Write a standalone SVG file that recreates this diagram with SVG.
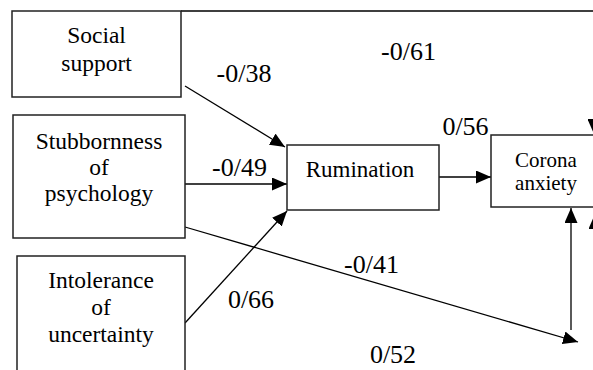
<svg xmlns="http://www.w3.org/2000/svg" width="593" height="370" viewBox="0 0 593 370">
<style>
.box{fill:#fff;stroke:#222;stroke-width:1.5}
.c{fill:none;stroke:#000;stroke-width:1.3}
text{font-family:'Liberation Serif','Times New Roman',serif;fill:#000;text-anchor:middle}
.t{font-size:23.5px}
.n{font-size:26px}
</style>
<defs>
<marker id="ah" markerUnits="userSpaceOnUse" markerWidth="15" markerHeight="13" refX="15" refY="6.5" orient="auto">
<path d="M0,0 L15,6.5 L0,13 z" fill="#000"/>
</marker>
</defs>
<rect width="593" height="370" fill="#fff"/>
<g id="connectors">
<polyline class="c" points="181,11 594,11 594,134" marker-end="url(#ah)"/>
<line class="c" x1="185" y1="86" x2="285" y2="147" marker-end="url(#ah)"/>
<line class="c" x1="185" y1="184" x2="287" y2="184" marker-end="url(#ah)"/>
<line class="c" x1="185" y1="323" x2="287" y2="211" marker-end="url(#ah)"/>
<line class="c" x1="439" y1="177" x2="491" y2="177" marker-end="url(#ah)"/>
<line class="c" x1="185" y1="227" x2="578" y2="342" marker-end="url(#ah)"/>
<line class="c" x1="571" y1="330" x2="571" y2="208" stroke="#444" marker-end="url(#ah)"/>
<line class="c" x1="595" y1="380" x2="595" y2="214" marker-end="url(#ah)"/>
</g>
<g id="social">
<rect class="box" x="12" y="11" width="169" height="86"/>
<text class="t" x="96.5" y="43">Social</text>
<text class="t" x="96.5" y="71">support</text>
</g>
<g id="stubbornness">
<rect class="box" x="13" y="115" width="172" height="123"/>
<text class="t" x="99" y="149">Stubbornness</text>
<text class="t" x="99" y="175">of</text>
<text class="t" x="99" y="201">psychology</text>
</g>
<g id="intolerance">
<rect class="box" x="17" y="256" width="168" height="130"/>
<text class="t" x="101" y="288">Intolerance</text>
<text class="t" x="101" y="315">of</text>
<text class="t" x="101" y="342">uncertainty</text>
</g>
<g id="rumination">
<rect class="box" x="287" y="145" width="152" height="65"/>
<text class="t" x="360" y="177" style="font-size:23px">Rumination</text>
</g>
<g id="corona">
<rect class="box" x="491" y="135" width="120" height="72"/>
<text class="t" x="546" y="167" style="font-size:21px">Corona</text>
<text class="t" x="546" y="190" style="font-size:21px">anxiety</text>
</g>
<g id="labels">
<text class="n" x="244" y="82">-0/38</text>
<text class="n" x="408.5" y="60">-0/61</text>
<text class="n" x="465.5" y="135">0/56</text>
<text class="n" x="239.5" y="176">-0/49</text>
<text class="n" x="371.5" y="273">-0/41</text>
<text class="n" x="251" y="308">0/66</text>
<text class="n" x="393" y="363">0/52</text>
</g>
</svg>
